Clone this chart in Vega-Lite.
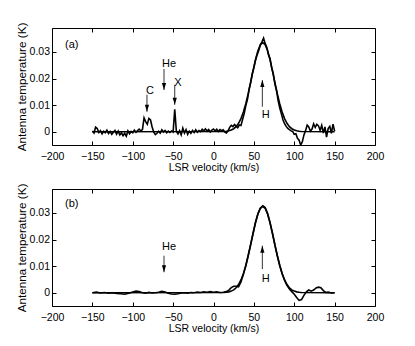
{
  "$schema": "https://vega.github.io/schema/vega-lite/v6.json",
  "background": "white",
  "padding": {"left": 16, "top": 22, "right": 5, "bottom": 5},
  "spacing": 10,
  "config": {
    "font": "Liberation Sans",
    "view": {"stroke": null},
    "axis": {
      "domainColor": "black", "tickColor": "black", "labelColor": "black", "titleColor": "black",
      "domainWidth": 1, "tickWidth": 1, "tickSize": -4, "grid": false,
      "labelFontSize": 10.5, "titleFontWeight": "normal", "labelFlush": false, "labelOverlap": false, "labelBound": false
    },
    "text": {"font": "Liberation Sans"}
  },
  "datasets": {
    "specA": [
      {"v":-150,"t":0.0003},{"v":-148,"t":-0.0005},{"v":-146,"t":0.0017},{"v":-144,"t":0.0012},{"v":-142,"t":-0.0003},{"v":-140,"t":0.0004},{"v":-138,"t":-0.0008},{"v":-136,"t":0.0002},{"v":-134,"t":-0.0004},{"v":-132,"t":0.0006},{"v":-130,"t":-0.0007},{"v":-128,"t":0.0001},{"v":-126,"t":-0.001},{"v":-124,"t":-0.0002},{"v":-122,"t":0.0005},{"v":-120,"t":-0.0009},{"v":-118,"t":0.0002},{"v":-116,"t":-0.0012},{"v":-114,"t":-0.0004},{"v":-112,"t":-0.0015},{"v":-110,"t":-0.0006},{"v":-108,"t":-0.0017},{"v":-106,"t":0.0003},{"v":-104,"t":-0.0008},{"v":-102,"t":0.0001},{"v":-100,"t":-0.0004},{"v":-98,"t":0.0006},{"v":-96,"t":-0.0002},{"v":-94,"t":0.0004},{"v":-92,"t":0.001},{"v":-90,"t":0.0003},{"v":-88,"t":0.0008},{"v":-86,"t":0.0052},{"v":-84,"t":0.0038},{"v":-82,"t":0.0028},{"v":-80,"t":0.005},{"v":-78,"t":0.0044},{"v":-76,"t":0.0018},{"v":-74,"t":-0.0002},{"v":-72,"t":-0.0011},{"v":-70,"t":-0.0006},{"v":-68,"t":0.0002},{"v":-66,"t":-0.0005},{"v":-64,"t":0.0007},{"v":-62,"t":-0.0001},{"v":-60,"t":0.0005},{"v":-58,"t":-0.0004},{"v":-56,"t":0.0002},{"v":-54,"t":-0.0003},{"v":-52,"t":0.0003},{"v":-50,"t":-0.0001},{"v":-48,"t":0.0084},{"v":-46,"t":0.0002},{"v":-44,"t":-0.0008},{"v":-42,"t":0.0004},{"v":-40,"t":-0.0012},{"v":-38,"t":0.0013},{"v":-36,"t":-0.0005},{"v":-34,"t":0.0008},{"v":-32,"t":-0.001},{"v":-30,"t":0.0002},{"v":-28,"t":-0.0006},{"v":-26,"t":0.0005},{"v":-24,"t":-0.0003},{"v":-22,"t":0.0007},{"v":-20,"t":-0.0002},{"v":-18,"t":0.0004},{"v":-16,"t":0},{"v":-14,"t":0.0009},{"v":-12,"t":0.0003},{"v":-10,"t":0.0011},{"v":-8,"t":0.0002},{"v":-6,"t":0.0008},{"v":-4,"t":-0.0001},{"v":-2,"t":0.0006},{"v":0,"t":0.001},{"v":2,"t":0.0003},{"v":4,"t":0.0009},{"v":6,"t":0.0001},{"v":8,"t":0.0008},{"v":10,"t":0.0004},{"v":12,"t":0.0007},{"v":14,"t":-0.0002},{"v":16,"t":-0.0005},{"v":18,"t":0.0002},{"v":20,"t":0.0016},{"v":22,"t":0.0024},{"v":24,"t":0.0019},{"v":26,"t":0.0027},{"v":28,"t":0.0021},{"v":30,"t":0.0015},{"v":32,"t":0.0025},{"v":34,"t":0.0023},{"v":36,"t":0.0046},{"v":38,"t":0.0068},{"v":40,"t":0.0098},{"v":42,"t":0.0121},{"v":44,"t":0.0158},{"v":46,"t":0.0185},{"v":48,"t":0.0218},{"v":50,"t":0.024},{"v":52,"t":0.0268},{"v":54,"t":0.0289},{"v":56,"t":0.0305},{"v":58,"t":0.0326},{"v":60,"t":0.0338},{"v":62,"t":0.0352},{"v":64,"t":0.0331},{"v":66,"t":0.0318},{"v":68,"t":0.029},{"v":70,"t":0.0275},{"v":72,"t":0.024},{"v":74,"t":0.0218},{"v":76,"t":0.018},{"v":78,"t":0.0155},{"v":80,"t":0.0118},{"v":82,"t":0.009},{"v":84,"t":0.0068},{"v":86,"t":0.0045},{"v":88,"t":0.003},{"v":90,"t":0.002},{"v":92,"t":0.0012},{"v":94,"t":0.0008},{"v":96,"t":0.0003},{"v":98,"t":0.0001},{"v":100,"t":-0.001},{"v":102,"t":-0.0008},{"v":104,"t":-0.0025},{"v":106,"t":-0.0032},{"v":108,"t":-0.005},{"v":110,"t":-0.0038},{"v":112,"t":-0.0012},{"v":114,"t":0.0004},{"v":116,"t":0.0025},{"v":118,"t":0.0018},{"v":120,"t":0.0002},{"v":122,"t":0.001},{"v":124,"t":0.003},{"v":126,"t":0.0016},{"v":128,"t":0.0028},{"v":130,"t":0.0022},{"v":132,"t":0.0005},{"v":134,"t":0.0024},{"v":136,"t":-0.0005},{"v":138,"t":0.0018},{"v":140,"t":-0.002},{"v":142,"t":0.0012},{"v":144,"t":0.002},{"v":146,"t":-0.0006},{"v":148,"t":0.0028},{"v":150,"t":0.0002}
    ],
    "fitA": [
      {"v":-150,"t":0},{"v":13,"t":0.00008},{"v":16,"t":0.00016},{"v":19,"t":0.00033},{"v":22,"t":0.00062},{"v":25,"t":0.00112},{"v":28,"t":0.00192},{"v":31,"t":0.00316},{"v":34,"t":0.00494},{"v":37,"t":0.00738},{"v":40,"t":0.01053},{"v":43,"t":0.01431},{"v":46,"t":0.01856},{"v":49,"t":0.02295},{"v":52,"t":0.02708},{"v":55,"t":0.03048},{"v":58,"t":0.03272},{"v":61,"t":0.0335},{"v":64,"t":0.03272},{"v":67,"t":0.03048},{"v":70,"t":0.02708},{"v":73,"t":0.02295},{"v":76,"t":0.01856},{"v":79,"t":0.01431},{"v":82,"t":0.01053},{"v":85,"t":0.00738},{"v":88,"t":0.00494},{"v":91,"t":0.00316},{"v":94,"t":0.00192},{"v":97,"t":0.00112},{"v":100,"t":0.00062},{"v":103,"t":0.00033},{"v":106,"t":0.00016},{"v":109,"t":0.00008},{"v":150,"t":0}
    ],
    "specB": [
      {"v":-150,"t":0},{"v":-145,"t":0.0002},{"v":-140,"t":-0.0001},{"v":-135,"t":0.0001},{"v":-130,"t":-0.0002},{"v":-125,"t":0},{"v":-120,"t":-0.0003},{"v":-115,"t":-0.0004},{"v":-110,"t":-0.0006},{"v":-105,"t":-0.0002},{"v":-100,"t":0.0003},{"v":-96,"t":0.0006},{"v":-92,"t":0.0004},{"v":-88,"t":0},{"v":-84,"t":-0.0002},{"v":-80,"t":0.0001},{"v":-76,"t":-0.0001},{"v":-72,"t":0},{"v":-68,"t":0.0002},{"v":-64,"t":0.0005},{"v":-60,"t":0.0003},{"v":-56,"t":-0.0002},{"v":-52,"t":-0.0005},{"v":-48,"t":-0.0006},{"v":-44,"t":-0.0004},{"v":-40,"t":-0.0001},{"v":-36,"t":0},{"v":-32,"t":-0.0002},{"v":-28,"t":0.0001},{"v":-24,"t":0},{"v":-20,"t":0.0002},{"v":-16,"t":0.0001},{"v":-12,"t":0.0003},{"v":-8,"t":0.0002},{"v":-4,"t":0.0004},{"v":0,"t":0.0002},{"v":4,"t":0.0003},{"v":8,"t":0.0001},{"v":12,"t":0.0002},{"v":16,"t":0.0004},{"v":19,"t":0.001},{"v":22,"t":0.0019},{"v":25,"t":0.0024},{"v":28,"t":0.0024},{"v":31,"t":0.0022},{"v":34,"t":0.004},{"v":37,"t":0.0069},{"v":40,"t":0.0101},{"v":43,"t":0.0141},{"v":46,"t":0.0182},{"v":49,"t":0.0224},{"v":52,"t":0.0265},{"v":55,"t":0.0297},{"v":58,"t":0.0318},{"v":61,"t":0.0327},{"v":64,"t":0.032},{"v":67,"t":0.0298},{"v":70,"t":0.0264},{"v":73,"t":0.0224},{"v":76,"t":0.0181},{"v":79,"t":0.014},{"v":82,"t":0.0103},{"v":85,"t":0.0072},{"v":88,"t":0.0047},{"v":91,"t":0.0028},{"v":94,"t":0.0014},{"v":97,"t":0.0004},{"v":100,"t":-0.0006},{"v":103,"t":-0.0018},{"v":106,"t":-0.0029},{"v":109,"t":-0.0026},{"v":112,"t":-0.001},{"v":115,"t":0.0003},{"v":118,"t":0.001},{"v":121,"t":0.0006},{"v":124,"t":0.001},{"v":127,"t":0.0018},{"v":130,"t":0.0021},{"v":133,"t":0.0019},{"v":136,"t":0.0008},{"v":139,"t":0.0001},{"v":142,"t":0.0002},{"v":146,"t":-0.0001},{"v":150,"t":0}
    ],
    "fitB": [
      {"v":-150,"t":0},{"v":13,"t":0.00008},{"v":16,"t":0.00016},{"v":19,"t":0.00032},{"v":22,"t":0.0006},{"v":25,"t":0.00108},{"v":28,"t":0.00186},{"v":31,"t":0.00306},{"v":34,"t":0.00479},{"v":37,"t":0.00716},{"v":40,"t":0.01021},{"v":43,"t":0.01388},{"v":46,"t":0.018},{"v":49,"t":0.02227},{"v":52,"t":0.02627},{"v":55,"t":0.02957},{"v":58,"t":0.03174},{"v":61,"t":0.0325},{"v":64,"t":0.03174},{"v":67,"t":0.02957},{"v":70,"t":0.02627},{"v":73,"t":0.02227},{"v":76,"t":0.018},{"v":79,"t":0.01388},{"v":82,"t":0.01021},{"v":85,"t":0.00716},{"v":88,"t":0.00479},{"v":91,"t":0.00306},{"v":94,"t":0.00186},{"v":97,"t":0.00108},{"v":100,"t":0.0006},{"v":103,"t":0.00032},{"v":106,"t":0.00016},{"v":109,"t":0.00008},{"v":150,"t":0}
    ],
    "annA": [
      {"label":"C","v":-82.4,"t1":0.0139,"t2":0.0075,"dir":"down","lx":-78.6,"ly":0.0154},
      {"label":"He","v":-61.3,"t1":0.0236,"t2":0.0157,"dir":"down","lx":-55.1,"ly":0.0255},
      {"label":"X","v":-48,"t1":0.0176,"t2":0.0101,"dir":"down","lx":-44,"ly":0.0184},
      {"label":"H","v":60.5,"t1":0.0094,"t2":0.0194,"dir":"up","lx":64.6,"ly":0.0063}
    ],
    "annB": [
      {"label":"He","v":-61.3,"t1":0.0139,"t2":0.0077,"dir":"down","lx":-55.1,"ly":0.0172},
      {"label":"H","v":60.5,"t1":0.0089,"t2":0.0177,"dir":"up","lx":64.6,"ly":0.0052}
    ],
    "tagA": [{"label":"(a)","v":-175.6,"t":0.0325}],
    "tagB": [{"label":"(b)","v":-175.6,"t":0.0333}]
  },
  "vconcat": [
    {
      "width": 323, "height": 117,
      "resolve": {"axis": {"x": "independent", "y": "independent"}},
      "layer": [
        {"data": {"name": "specA"}, "mark": {"type": "line", "color": "black", "strokeWidth": 1.6, "clip": true},
         "encoding": {
           "x": {"field": "v", "type": "quantitative", "scale": {"domain": [-200, 200], "nice": false},
                 "axis": {"orient": "bottom", "values": [-200,-150,-100,-50,0,50,100,150,200], "title": "LSR velocity (km/s)", "titleFontSize": 10.5, "labelPadding": 10, "titlePadding": 1}},
           "y": {"field": "t", "type": "quantitative", "scale": {"domain": [-0.005, 0.039], "nice": false, "zero": false},
                 "axis": {"orient": "left", "values": [0, 0.01, 0.02, 0.03], "format": ".2~f", "title": "Antenna temperature (K)", "titleFontSize": 11.7, "labelPadding": 6.5, "titlePadding": 2}}
         }},
        {"data": {"name": "fitA"}, "mark": {"type": "line", "color": "black", "strokeWidth": 1.6, "clip": true},
         "encoding": {
           "x": {"field": "v", "type": "quantitative", "axis": {"orient": "top", "values": [-200,-150,-100,-50,0,50,100,150,200], "labels": false, "title": null}},
           "y": {"field": "t", "type": "quantitative", "axis": {"orient": "right", "values": [0, 0.01, 0.02, 0.03], "labels": false, "title": null}}
         }},
        {"data": {"name": "annA"}, "mark": {"type": "rule", "color": "black", "strokeWidth": 0.8},
         "encoding": {
           "x": {"field": "v", "type": "quantitative", "axis": null},
           "y": {"field": "t1", "type": "quantitative", "axis": null},
           "y2": {"field": "t2"}
         }},
        {"data": {"name": "annA"}, "mark": {"type": "point", "filled": true, "color": "black", "opacity": 1, "size": 196, "strokeWidth": 0},
         "encoding": {
           "x": {"field": "v", "type": "quantitative", "axis": null},
           "y": {"field": "t2", "type": "quantitative", "axis": null},
           "shape": {"field": "dir", "type": "nominal", "scale": {"domain": ["down", "up"], "range": ["M0,0L-0.3,-1L0.3,-1Z", "M0,0L-0.3,1L0.3,1Z"]}, "legend": null}
         }},
        {"data": {"name": "annA"}, "mark": {"type": "text", "fontSize": 11, "color": "black", "baseline": "middle"},
         "encoding": {
           "x": {"field": "lx", "type": "quantitative", "axis": null},
           "y": {"field": "ly", "type": "quantitative", "axis": null},
           "text": {"field": "label"}
         }},
        {"data": {"name": "tagA"}, "mark": {"type": "text", "fontSize": 11, "color": "black", "baseline": "middle"},
         "encoding": {
           "x": {"field": "v", "type": "quantitative", "axis": null},
           "y": {"field": "t", "type": "quantitative", "axis": null},
           "text": {"field": "label"}
         }}
      ]
    },
    {
      "width": 323, "height": 117,
      "resolve": {"axis": {"x": "independent", "y": "independent"}},
      "layer": [
        {"data": {"name": "specB"}, "mark": {"type": "line", "color": "black", "strokeWidth": 1.6, "clip": true},
         "encoding": {
           "x": {"field": "v", "type": "quantitative", "scale": {"domain": [-200, 200], "nice": false},
                 "axis": {"orient": "bottom", "values": [-200,-150,-100,-50,0,50,100,150,200], "title": "LSR velocity (km/s)", "titleFontSize": 10.5, "labelPadding": 10, "titlePadding": 1}},
           "y": {"field": "t", "type": "quantitative", "scale": {"domain": [-0.005, 0.039], "nice": false, "zero": false},
                 "axis": {"orient": "left", "values": [0, 0.01, 0.02, 0.03], "format": ".2~f", "title": "Antenna temperature (K)", "titleFontSize": 11.7, "labelPadding": 6.5, "titlePadding": 2}}
         }},
        {"data": {"name": "fitB"}, "mark": {"type": "line", "color": "black", "strokeWidth": 1.6, "clip": true},
         "encoding": {
           "x": {"field": "v", "type": "quantitative", "axis": {"orient": "top", "values": [-200,-150,-100,-50,0,50,100,150,200], "labels": false, "title": null}},
           "y": {"field": "t", "type": "quantitative", "axis": {"orient": "right", "values": [0, 0.01, 0.02, 0.03], "labels": false, "title": null}}
         }},
        {"data": {"name": "annB"}, "mark": {"type": "rule", "color": "black", "strokeWidth": 0.8},
         "encoding": {
           "x": {"field": "v", "type": "quantitative", "axis": null},
           "y": {"field": "t1", "type": "quantitative", "axis": null},
           "y2": {"field": "t2"}
         }},
        {"data": {"name": "annB"}, "mark": {"type": "point", "filled": true, "color": "black", "opacity": 1, "size": 196, "strokeWidth": 0},
         "encoding": {
           "x": {"field": "v", "type": "quantitative", "axis": null},
           "y": {"field": "t2", "type": "quantitative", "axis": null},
           "shape": {"field": "dir", "type": "nominal", "scale": {"domain": ["down", "up"], "range": ["M0,0L-0.3,-1L0.3,-1Z", "M0,0L-0.3,1L0.3,1Z"]}, "legend": null}
         }},
        {"data": {"name": "annB"}, "mark": {"type": "text", "fontSize": 11, "color": "black", "baseline": "middle"},
         "encoding": {
           "x": {"field": "lx", "type": "quantitative", "axis": null},
           "y": {"field": "ly", "type": "quantitative", "axis": null},
           "text": {"field": "label"}
         }},
        {"data": {"name": "tagB"}, "mark": {"type": "text", "fontSize": 11, "color": "black", "baseline": "middle"},
         "encoding": {
           "x": {"field": "v", "type": "quantitative", "axis": null},
           "y": {"field": "t", "type": "quantitative", "axis": null},
           "text": {"field": "label"}
         }}
      ]
    }
  ]
}
